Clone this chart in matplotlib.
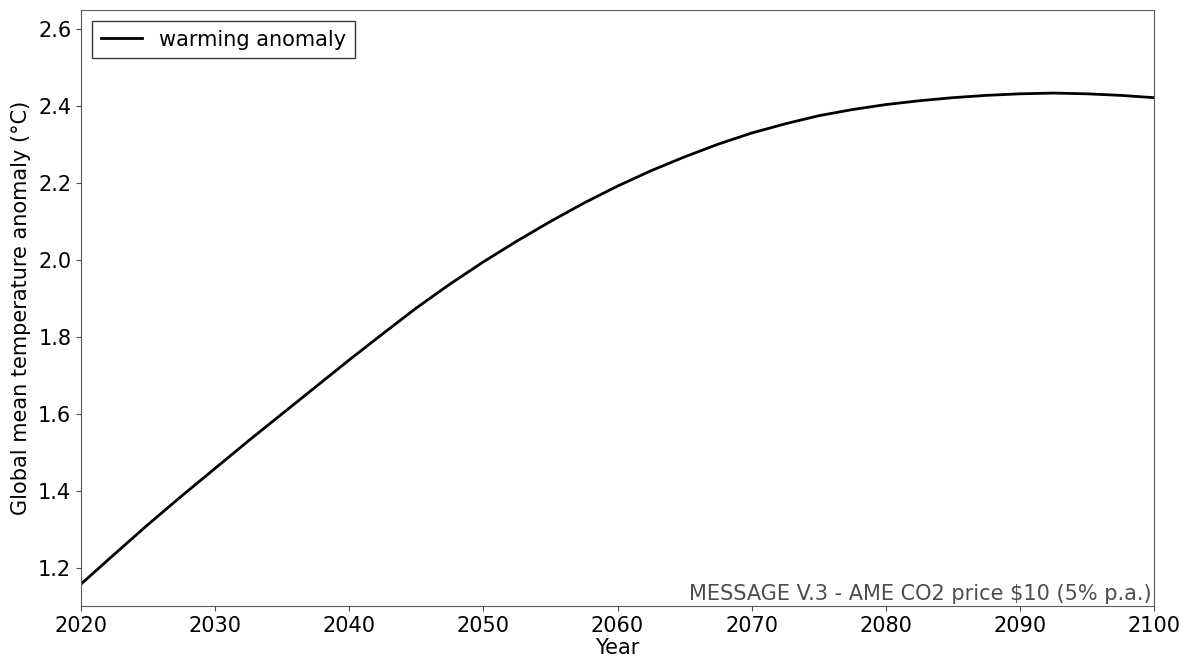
import matplotlib
matplotlib.use("Agg")
import matplotlib.pyplot as plt

years = [2020, 2022.5, 2025, 2027.5, 2030, 2032.5, 2035, 2037.5, 2040,
         2042.5, 2045, 2047.5, 2050, 2052.5, 2055, 2057.5, 2060, 2062.5,
         2065, 2067.5, 2070, 2072.5, 2075, 2077.5, 2080, 2082.5, 2085,
         2087.5, 2090, 2092.5, 2095, 2097.5, 2100]
anomaly = [1.157, 1.235, 1.312, 1.386, 1.458, 1.530, 1.600, 1.670, 1.740,
           1.808, 1.875, 1.937, 1.995, 2.049, 2.100, 2.148, 2.192, 2.232,
           2.268, 2.301, 2.330, 2.354, 2.375, 2.391, 2.404, 2.414, 2.422,
           2.428, 2.432, 2.434, 2.432, 2.428, 2.422]
xticks = [2020, 2030, 2040, 2050, 2060, 2070, 2080, 2090, 2100]
yticks = [1.2, 1.4, 1.6, 1.8, 2.0, 2.2, 2.4, 2.6]

fig = plt.figure(figsize=(11.81, 6.59), dpi=100)
ax = fig.add_axes([81/1181, 1-606/659, (1154-81)/1181, (606-10)/659])

ax.plot(years, anomaly, color='black', lw=2, label='warming anomaly')
ax.set_xlim(2020, 2100)
ax.set_ylim(1.10, 2.65)
ax.set_xticks(xticks)
ax.set_yticks(yticks)
ax.set_yticklabels([f"{v:.1f}" for v in yticks])
ax.tick_params(labelsize=15, color='0.3')
for s in ax.spines.values():
    s.set_color('0.35')
ax.set_xlabel('Year', fontsize=15, labelpad=2)
ax.set_ylabel('Global mean temperature anomaly (°C)', fontsize=15, labelpad=5)

leg = ax.legend(loc='upper left', fontsize=15, fancybox=False, framealpha=1,
                edgecolor='0.2', borderaxespad=0.55)
leg.get_frame().set_linewidth(1.0)

ax.text(0.998, 0.003, 'MESSAGE V.3 - AME CO2 price $10 (5% p.a.)',
        transform=ax.transAxes, ha='right', va='bottom', fontsize=15,
        color='0.3')

fig.savefig('out.png', dpi=100)
